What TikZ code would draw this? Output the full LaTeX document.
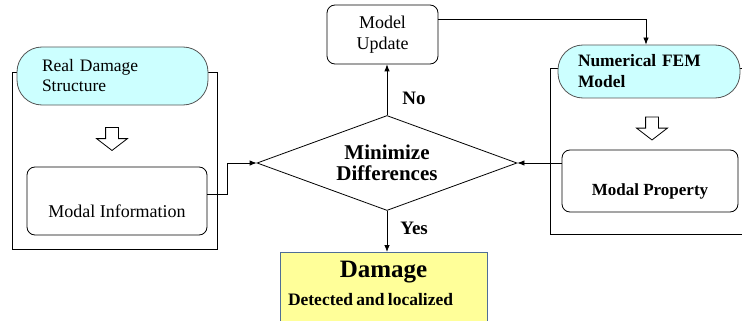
\documentclass[tikz,border=0pt]{standalone}
\usepackage{fontspec}
\setmainfont{LiberationSerif}[Extension=.ttf, UprightFont=*-Regular, BoldFont=*-Bold, ItalicFont=*-Italic, BoldItalicFont=*-BoldItalic]
\definecolor{startcyan}{RGB}{204,255,255}
\definecolor{resultyellow}{RGB}{255,255,153}
\definecolor{edgegray}{RGB}{85,85,85}
\definecolor{edgeblue}{RGB}{79,110,150}
\usetikzlibrary{shapes,arrows.meta,positioning,calc}

\begin{document}
\begin{tikzpicture}[x=1pt,y=-1pt,
    frame/.style={draw, line width=0.7pt},
    startbox/.style={draw=edgegray, fill=startcyan, line width=0.8pt, rounded corners=25pt, align=left},
    procbox/.style={draw, fill=white, line width=0.8pt, rounded corners=8pt},
    decision/.style={diamond, draw, line width=0.8pt, aspect=2.737, inner sep=0pt, minimum width=260pt, minimum height=95pt, align=center, font=\bfseries\fontsize{21pt}{20.5pt}\selectfont},
    resultbox/.style={draw=edgeblue, fill=resultyellow, line width=0.8pt, minimum width=207pt, text width=191pt, inner xsep=8pt, inner ysep=9pt, text depth=60pt, align=left, font=\bfseries},
    hollowarrow/.style={single arrow, draw, line width=0.8pt, fill=white, rotate=-90, inner sep=6pt, single arrow head extend=9pt, single arrow tip angle=105, minimum height=23pt},
    flow/.style={draw, line width=0.8pt, -{Latex[length=7pt,width=5.5pt]}},
    lbl/.style={inner sep=0pt, font=\bfseries\fontsize{19pt}{19pt}\selectfont}]
  \useasboundingbox (0,0) rectangle (742,321);
  \clip (0,0) rectangle (742,321);

  % the two frames
  \draw[frame] (12,72) rectangle (217,249);
  \draw[frame] (550,68) rectangle (760,234);

  % left side
  \node[startbox, minimum width=191pt, minimum height=58pt, text width=141pt,
        font=\fontsize{17.5pt}{20pt}\selectfont] (realdmg) at (112.5,76) {Real Damage\\Structure};
  \node[hollowarrow] (realarrow) at (112,136.5) {};
  \node[procbox, minimum width=180pt, minimum height=68pt,
        font=\fontsize{18pt}{20pt}\selectfont] (modinfo) at (117,201) {\raisebox{-16pt}[0pt][0pt]{Modal Information}};

  % right side
  \node[startbox, minimum width=182pt, minimum height=53pt, text width=142pt,
        font=\bfseries\fontsize{17.4pt}{21pt}\selectfont] (numfem) at (649,71.5) {Numerical FEM\\Model};
  \node[hollowarrow] (femarrow) at (652,126) {};
  \node[procbox, minimum width=176pt, minimum height=62pt,
        font=\bfseries\fontsize{17pt}{20pt}\selectfont] (modprop) at (650,181) {\raisebox{-14pt}[0pt][0pt]{Modal Property}};

  % middle
  \node[decision] (diff) at (387,163) {Minimize\\Differences};
  \node[procbox, minimum width=111pt, minimum height=59pt, align=center,
        font=\fontsize{18pt}{21pt}\selectfont] (update) at (382.5,34.5) {Model\\Update};
  \node[resultbox, anchor=north] (damage) at (383.5,252)
    {\makebox[191pt]{\fontsize{25pt}{25pt}\selectfont Damage}\\[9pt]{\fontsize{17.5pt}{25pt}\selectfont Detected and localized}};

  % connectors
  \draw[flow] ([yshift=7pt]modinfo.east) -- ++(20,0) |- (diff.west);
  \draw[flow] ([yshift=18pt]modprop.west) -- (diff.east);
  \draw[flow] (diff.south) -- (diff.south |- damage.north)
    node[lbl, pos=0.43, right=13pt] (yes) {Yes};
  \draw[flow] (diff.north) -- (diff.north |- update.south)
    node[lbl, pos=0.33, right=15pt] (no) {No};
  \draw[flow] ([yshift=15pt]update.east) -| ([xshift=-3pt]numfem.north);
\end{tikzpicture}
\end{document}
